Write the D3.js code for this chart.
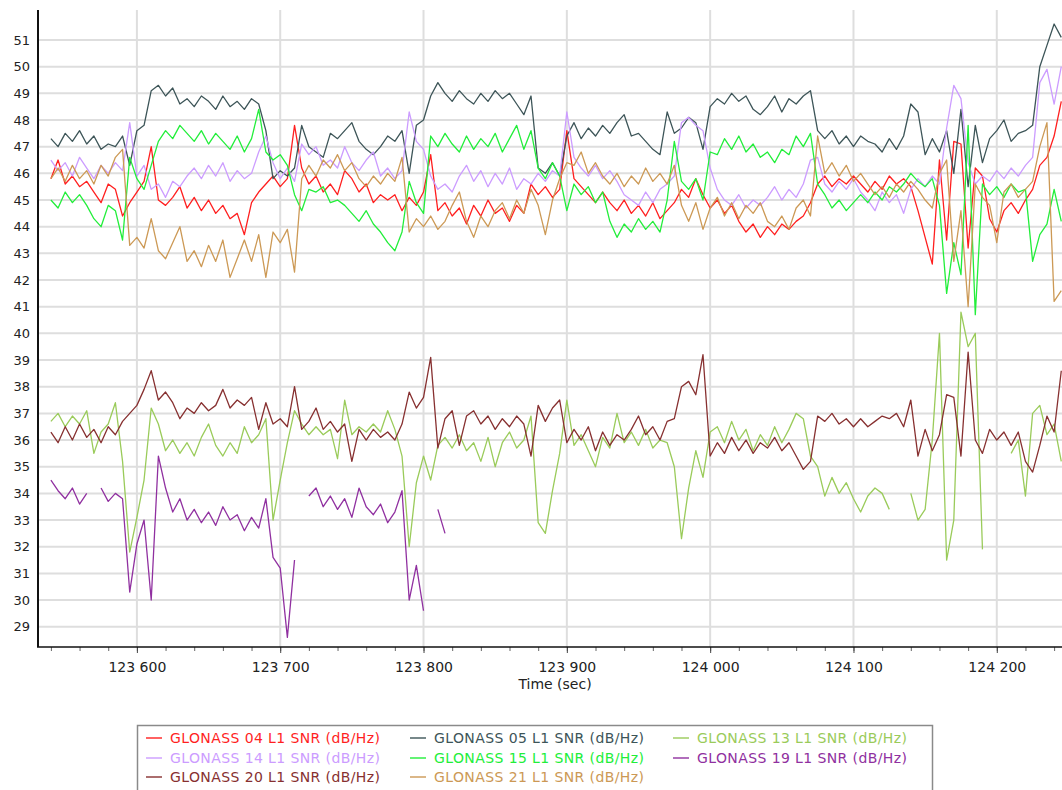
<!DOCTYPE html>
<html>
<head>
<meta charset="utf-8">
<script src="https://cdn.jsdelivr.net/npm/d3@7"></script>
<style>
  body { margin: 0; background: #fff; }
  svg { font-family: "DejaVu Sans", Verdana, sans-serif; }
</style>
</head>
<body>
<svg id="chart" width="1062" height="790"></svg>
<script>
// samples every 5 s starting at 123540 s
const startTime = 123540;
const stepSec = 5;

const g04 = [
  45.8, 46.5, 45.6, 45.9, 45.5, 45.7, 45.3, 44.9, 45.6, 45.4,
  44.4, 44.9, 45.3, 45.7, 47.0, 45.0, 44.8, 45.1, 45.5, 44.7,
  45.1, 44.6, 45.0, 44.5, 44.8, 44.3, 44.5, 43.7, 44.9, 45.3,
  45.6, 45.9, 45.5, 45.8, 47.8, 46.2, 45.6, 45.9, 45.3, 45.6,
  45.2, 46.1, 45.8, 45.3, 45.6, 44.9, 45.2, 45.0, 45.2, 44.6,
  45.1, 44.8, 45.3, 46.7, 44.6, 44.9, 44.4, 44.7, 44.1, 44.8,
  44.4, 45.0, 44.5, 44.7, 44.2, 44.8, 44.5, 45.6, 45.2, 45.5,
  45.1, 45.4, 47.6, 45.8, 45.5, 45.2, 44.9, 45.3, 44.9, 44.6,
  45.0, 44.5, 44.8, 44.4, 44.9, 44.3, 44.6, 44.9, 45.4, 45.1,
  45.8, 45.2, 44.7, 45.0, 44.5, 44.8, 44.2, 43.8, 44.1, 43.6,
  44.0, 43.7, 44.1, 43.9, 44.2, 44.4, 44.9, 45.6, 45.9, 45.5,
  45.8, 45.6, 45.9, 45.6, 45.3, 45.7, 45.4, 45.9, 45.6, 45.8,
  45.5, 44.6, 43.6, 42.6, 46.5, 43.5, 47.2, 47.1, 43.2, 46.2,
  45.9, 44.3, 43.8, 44.6, 44.9, 44.5, 45.0, 45.4, 46.3, 46.6,
  47.4, 48.7
];

const g05 = [
  47.3, 47.0, 47.5, 47.2, 47.6, 47.1, 47.4, 46.9, 47.1, 47.0,
  47.4, 46.3, 47.6, 47.8, 49.1, 49.3, 48.9, 49.2, 48.6, 48.8,
  48.5, 48.9, 48.7, 48.4, 48.9, 48.5, 48.7, 48.4, 48.8, 48.6,
  47.6, 45.8, 46.1, 45.9, 46.2, 47.8, 47.0, 46.8, 46.6, 47.5,
  47.3, 47.6, 47.9, 47.2, 46.9, 46.7, 47.0, 47.4, 47.2, 47.6,
  46.0, 47.8, 48.0, 48.9, 49.4, 49.0, 48.7, 49.1, 48.8, 48.6,
  49.0, 48.7, 49.1, 48.8, 49.0, 48.6, 48.2, 48.9, 46.2, 46.0,
  46.4, 45.9, 47.4, 47.9, 47.3, 47.7, 47.4, 47.8, 47.5, 47.9,
  48.2, 47.4, 47.5, 47.2, 46.9, 46.7, 48.3, 47.5, 47.7, 48.1,
  47.9, 46.9, 48.5, 48.8, 48.6, 49.0, 48.7, 48.9, 48.4, 48.2,
  48.5, 48.9, 48.3, 48.8, 48.6, 48.9, 49.1, 47.6, 47.3, 47.6,
  47.1, 47.4, 47.0, 47.4, 47.2, 47.1, 46.8, 47.3, 46.9, 47.4,
  48.6, 48.3, 46.7, 47.3, 46.8, 47.6, 46.0, 48.4, 45.5, 47.8,
  46.4, 47.3, 47.6, 48.0, 47.2, 47.5, 47.6, 47.8, 50.0, 50.8,
  51.6, 51.1
];

const g13 = [
  36.7, 37.0, 36.5, 36.9, 36.6, 37.1, 35.5, 36.3, 36.6, 37.4,
  35.2, 31.8, 33.1, 34.5, 37.2, 36.6, 35.6, 36.0, 35.5, 35.9,
  35.4, 36.1, 36.6, 35.8, 35.4, 35.9, 35.5, 36.5, 35.9, 36.2,
  36.8, 33.0, 34.5, 35.9, 37.1, 36.6, 36.2, 36.5, 36.2, 36.4,
  35.3, 37.5, 36.2, 36.5, 36.3, 36.6, 36.3, 37.1, 36.4, 35.4,
  32.0, 34.4, 35.4, 34.5, 35.8, 36.1, 35.7, 36.2, 35.6, 35.9,
  35.2, 36.1, 35.0, 35.9, 36.3, 35.7, 36.0, 36.9, 32.9, 32.5,
  34.1, 35.5, 37.5, 35.8, 36.2, 35.6, 35.0, 36.1, 35.7, 37.0,
  35.9, 36.3, 35.8, 36.4, 35.7, 36.0, 35.9, 35.0, 32.3, 34.2,
  35.6, 34.6, 36.3, 36.5, 35.9, 36.7, 36.0, 36.4, 35.6, 36.2,
  35.8, 36.5, 35.9, 36.4, 37.0, 36.8, 35.4, 35.0, 33.9, 34.6,
  34.0, 34.4, 33.8, 33.3, 33.9, 34.2, 34.0, 33.4, null, null,
  34.0, 33.0, 33.4, 36.0, 40.0, 31.5, 33.0, 40.8, 39.5, 40.0,
  31.9, null, null, null, 35.5, 36.0, 33.9, 37.0, 37.3, 36.2,
  36.6, 35.2
];

const g14 = [
  46.5, 46.1, 46.4, 45.9, 46.6, 46.2, 45.8, 46.3, 46.0, 46.4,
  46.1, 47.9, 45.9, 46.3, 45.4, 45.6, 45.1, 45.7, 45.5, 45.9,
  46.2, 45.8, 46.3, 45.9, 46.4, 45.7, 46.1, 45.8, 46.0, 46.8,
  47.4, 46.4, 45.8, 46.2, 45.7, 47.1, 46.7, 47.0, 46.3, 46.5,
  46.2, 47.0, 46.4, 46.1, 46.5, 46.8, 45.9, 46.2, 45.8, 46.1,
  48.3, 47.2, 46.9, 45.9, 45.4, 45.6, 45.3, 45.9, 46.3, 45.7,
  46.1, 45.5, 46.0, 45.6, 46.2, 45.4, 45.8, 45.6, 46.0, 45.7,
  46.1, 45.9, 48.3, 46.6, 46.2, 45.9, 46.3, 45.8, 46.1, 45.7,
  45.2, 45.0, 44.8, 45.3, 44.9, 45.4, 45.6, 45.9, 47.9, 48.1,
  47.8, 47.6, 46.2, 45.4, 45.0, 44.8, 45.2, 44.7, 45.0, 44.8,
  45.1, 45.5, 45.0, 45.4, 45.1, 45.6, 46.5, 46.6, 45.6, 45.3,
  45.7, 45.4, 45.8, 45.3, 45.0, 44.6, 45.3, 44.9, 45.2, 44.5,
  45.4, 45.8, 45.5, 45.9, 45.6, 47.7, 49.3, 48.8, 46.4, 45.6,
  45.9, 45.7, 46.1, 45.8, 46.2, 45.9, 46.3, 46.6, 49.4, 49.9,
  48.6, 50.0
];

const g15 = [
  45.0, 44.7, 45.3, 44.9, 45.2, 44.8, 44.3, 44.0, 44.8, 44.6,
  43.5, 46.6, 45.8, 45.4, 46.3, 47.2, 47.6, 47.3, 47.8, 47.5,
  47.2, 47.6, 47.1, 47.5, 47.2, 46.9, 47.4, 46.8, 47.3, 48.4,
  46.8, 46.5, 46.7, 46.3, 45.2, 44.6, 45.4, 45.3, 45.5, 44.9,
  45.0, 44.8, 44.5, 44.2, 44.6, 44.1, 43.8, 43.4, 43.1, 43.8,
  45.7, 44.9, 44.5, 47.4, 47.0, 47.5, 47.1, 46.8, 47.4, 46.9,
  47.3, 47.0, 47.5, 46.8, 47.3, 47.8, 46.9, 47.6, 46.2, 45.8,
  46.4, 45.9, 44.6, 45.6, 45.2, 45.5, 44.9, 45.3, 44.2, 43.6,
  44.1, 43.8, 44.3, 43.9, 44.2, 43.8, 45.0, 47.2, 45.7, 45.4,
  45.8, 45.0, 46.8, 46.7, 47.3, 46.9, 47.4, 46.8, 47.1, 46.6,
  46.8, 46.4, 46.9, 46.7, 47.4, 47.0, 47.5, 45.6, 45.2, 44.7,
  45.0, 44.6, 44.9, 45.2, 44.9, 45.3, 45.0, 45.5, 45.3, 45.6,
  46.0, 45.7, 45.5, 45.8, 44.8, 41.5, 43.4, 42.2, 47.8, 40.7,
  45.6, 45.2, 45.5, 45.1, 45.6, 45.3, 45.4, 42.7, 43.7, 44.1,
  45.4, 44.2
];

const g19 = [
  34.5, 34.1, 33.8, 34.2, 33.6, 34.0, null, 34.2, 33.7, 34.0,
  33.8, 30.3, 32.1, 33.0, 30.0, 35.4, 34.2, 33.3, 33.8, 33.0,
  33.4, 32.9, 33.3, 32.8, 33.5, 33.0, 33.2, 32.6, 33.1, 32.7,
  33.8, 31.6, 31.2, 28.6, 31.5, null, 33.9, 34.2, 33.5, 33.9,
  33.4, 33.8, 33.1, 34.2, 33.5, 33.2, 33.6, 32.9, 33.3, 34.1,
  30.0, 31.3, 29.6, null, 33.4, 32.5
];

const g20 = [
  36.3, 35.9, 36.5, 36.0, 36.6, 36.1, 36.4, 35.9, 36.5, 36.2,
  36.7, 37.0, 37.3, 37.9, 38.6, 37.5, 37.8, 37.4, 36.8, 37.2,
  37.0, 37.4, 37.1, 37.3, 37.9, 37.2, 37.5, 37.3, 37.6, 36.4,
  37.4, 36.6, 36.8, 36.5, 38.0, 36.4, 36.7, 37.2, 36.4, 36.7,
  36.3, 36.6, 35.2, 36.4, 36.0, 36.4, 36.1, 36.3, 36.0, 36.6,
  37.8, 37.2, 37.6, 39.1, 35.7, 36.8, 37.1, 35.8, 36.9, 37.1,
  36.6, 36.9, 36.4, 36.8, 36.5, 36.9, 36.6, 35.4, 37.3, 36.7,
  37.2, 37.5, 35.9, 36.4, 36.0, 36.5, 35.6, 36.3, 35.8, 36.2,
  36.0, 36.4, 36.9, 36.2, 36.5, 36.0, 36.7, 36.8, 38.0, 38.2,
  37.7, 39.2, 35.4, 35.9, 35.5, 36.1, 35.6, 36.0, 35.5, 35.9,
  35.7, 36.1, 35.6, 35.9, 35.4, 34.9, 35.2, 36.9, 36.7, 37.0,
  36.6, 36.8, 36.5, 36.8, 36.5, 36.7, 36.9, 36.8, 37.0, 36.5,
  37.5, 35.4, 36.4, 35.6, 36.2, 37.7, 37.6, 35.4, 39.3, 36.0,
  35.5, 36.4, 36.0, 36.3, 35.8, 36.3, 35.2, 34.8, 35.8, 36.9,
  36.3, 38.6
];

const g21 = [
  45.8, 46.2, 45.7, 46.3, 45.8, 46.1, 45.6, 46.3, 45.9, 46.6,
  46.9, 43.3, 43.6, 43.2, 44.3, 43.1, 42.8, 43.4, 44.0, 42.7,
  43.1, 42.5, 43.3, 42.7, 43.5, 42.1, 42.8, 43.5, 42.7, 43.7,
  42.1, 43.8, 43.4, 43.9, 42.3, 45.8, 46.3, 45.9, 46.5, 46.2,
  46.7, 46.1, 46.4, 45.8, 45.5, 45.9, 45.6, 46.0, 45.7, 46.6,
  43.8, 44.3, 44.0, 44.4, 43.9, 44.2, 44.8, 45.3, 44.2, 43.6,
  44.4, 44.0, 44.6, 44.9, 44.3, 45.0, 44.5, 45.4, 44.8, 43.7,
  45.0, 45.8, 46.4, 46.3, 46.8, 46.0, 46.4, 45.9, 45.6, 46.0,
  45.5, 45.9, 45.6, 46.2, 45.7, 46.0, 45.6, 46.3, 44.8, 44.2,
  44.9, 43.9, 44.7, 45.1, 44.4, 44.9, 44.3, 44.8, 44.5, 44.9,
  44.2, 44.0, 44.4, 43.9, 44.7, 45.0, 44.4, 47.4, 46.0, 46.4,
  45.9, 46.3, 45.7, 46.0, 45.6, 45.2, 45.5, 45.1, 45.6, 45.3,
  45.7, 45.4, 45.0, 44.7, 46.0, 46.5, 42.7, 44.6, 41.0, 45.6,
  45.1, 44.8, 43.4, 45.3, 45.6, 45.1, 45.4, 45.7, 47.0, 47.9,
  41.2, 41.6
];

const seriesNames = [
  "GLONASS 04 L1 SNR (dB/Hz)", "GLONASS 05 L1 SNR (dB/Hz)", "GLONASS 13 L1 SNR (dB/Hz)",
  "GLONASS 14 L1 SNR (dB/Hz)", "GLONASS 15 L1 SNR (dB/Hz)", "GLONASS 19 L1 SNR (dB/Hz)",
  "GLONASS 20 L1 SNR (dB/Hz)", "GLONASS 21 L1 SNR (dB/Hz)"
];
const seriesColors = ["#ff1f1f", "#3d5558", "#9acb5a", "#cc9cff", "#22ee3a", "#9030a0", "#873030", "#cc9955"];
const seriesValues = [g04, g05, g13, g14, g15, g19, g20, g21];

const yTicks = d3.range(29, 52);
const xMajorTicks = [123600, 123700, 123800, 123900, 124000, 124100, 124200];
const xMinorTicks = d3.range(123540, 124246, 20);

const svg = d3.select("#chart");
const plot = { left: 38, top: 10, right: 1062, bottom: 647 };

const x = d3.scaleLinear().domain([123531, 124245.5]).range([plot.left, plot.right]);
const y = d3.scaleLinear().domain([28.24, 52.125]).range([plot.bottom, plot.top]);

const fmt = d3.formatLocale({ decimal: ".", thousands: " ", grouping: [3], currency: ["", ""] }).format(",");

svg.append("defs").append("clipPath").attr("id", "clip")
  .append("rect")
    .attr("x", plot.left).attr("y", plot.top)
    .attr("width", plot.right - plot.left).attr("height", plot.bottom - plot.top);

// grid
svg.append("g").selectAll("line")
  .data(yTicks)
  .join("line")
    .attr("x1", plot.left).attr("x2", plot.right)
    .attr("y1", d => y(d)).attr("y2", d => y(d))
    .attr("stroke", "#dedede").attr("stroke-width", 2);

svg.append("g").selectAll("line")
  .data(xMajorTicks)
  .join("line")
    .attr("x1", d => x(d)).attr("x2", d => x(d))
    .attr("y1", plot.top).attr("y2", plot.bottom)
    .attr("stroke", "#dedede").attr("stroke-width", 2);

// series
const line = d3.line()
  .defined(d => d.v != null)
  .x(d => x(d.t))
  .y(d => y(d.v));

const series = seriesNames.map((name, k) => ({
  name,
  color: seriesColors[k],
  points: seriesValues[k].map((v, i) => ({ t: startTime + i * stepSec, v }))
}));

svg.append("g").attr("clip-path", "url(#clip)")
  .selectAll("path")
  .data(series)
  .join("path")
    .attr("fill", "none")
    .attr("stroke", d => d.color)
    .attr("stroke-width", 1.3)
    .attr("stroke-linejoin", "round")
    .attr("d", d => line(d.points));

// axes
const yAxis = svg.append("g")
  .attr("transform", `translate(${plot.left},0)`)
  .call(d3.axisLeft(y).tickValues(yTicks).tickSize(0).tickPadding(8));
yAxis.select(".domain").remove();
yAxis.selectAll("text").attr("font-size", 13).attr("fill", "#222")
  .attr("font-family", "DejaVu Sans, Verdana, sans-serif");

const xMinor = svg.append("g")
  .attr("transform", `translate(0,${plot.bottom})`)
  .call(d3.axisBottom(x).tickValues(xMinorTicks).tickSize(4).tickFormat(""));
xMinor.select(".domain").remove();
xMinor.selectAll("line").attr("stroke", "#666");

const xAxis = svg.append("g")
  .attr("transform", `translate(0,${plot.bottom})`)
  .call(d3.axisBottom(x).tickValues(xMajorTicks).tickSize(6).tickPadding(9).tickFormat(fmt));
xAxis.select(".domain").remove();
xAxis.selectAll("line").attr("stroke", "#444");
xAxis.selectAll("text").attr("font-size", 14).attr("fill", "#222")
  .attr("font-family", "DejaVu Sans, Verdana, sans-serif");

svg.append("line")
  .attr("x1", plot.left).attr("x2", plot.left)
  .attr("y1", plot.top).attr("y2", plot.bottom)
  .attr("stroke", "#111").attr("stroke-width", 2);
svg.append("line")
  .attr("x1", plot.left - 1).attr("x2", plot.right)
  .attr("y1", plot.bottom).attr("y2", plot.bottom)
  .attr("stroke", "#111").attr("stroke-width", 1.5);

svg.append("text")
  .attr("x", 555).attr("y", 689)
  .attr("text-anchor", "middle")
  .attr("font-size", 14).attr("fill", "#222")
  .text("Time (sec)");

// legend
const legend = svg.append("g");
legend.append("rect")
  .attr("x", 137.5).attr("y", 725.5)
  .attr("width", 795).attr("height", 80)
  .attr("fill", "#fff").attr("stroke", "#8a8a8a").attr("stroke-width", 1.5);

const colX = [146, 410, 673];
const rowY = [738, 758, 777];

const items = legend.selectAll("g.item")
  .data(series)
  .join("g")
    .attr("class", "item")
    .attr("transform", (d, i) => `translate(${colX[i % 3]},${rowY[Math.floor(i / 3)]})`);

items.append("line")
  .attr("x1", 0).attr("x2", 16)
  .attr("stroke", d => d.color).attr("stroke-opacity", 0.7).attr("stroke-width", 2);

items.append("text")
  .attr("x", 24).attr("dy", "0.36em")
  .attr("font-size", 14).attr("letter-spacing", 0.4)
  .attr("fill", d => d.color)
  .text(d => d.name);
</script>
</body>
</html>
